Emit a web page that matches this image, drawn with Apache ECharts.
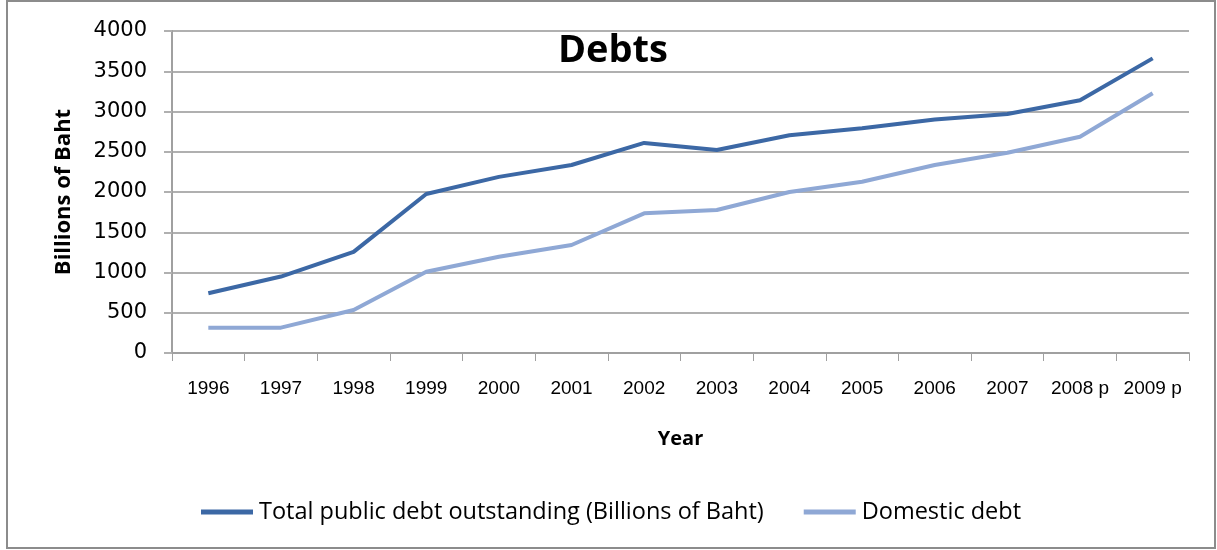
<!DOCTYPE html>
<html>
<head>
<meta charset="utf-8">
<script src="https://cdn.jsdelivr.net/npm/echarts@6/dist/echarts.min.js"></script>
<style>html,body{margin:0;padding:0;background:#fff}#c{width:1217px;height:550px}</style>
</head>
<body>
<div id="c"></div>
<script>
const years = ['1996','1997','1998','1999','2000','2001','2002','2003','2004','2005','2006','2007','2008 p','2009 p'];
const totalDebt = [742, 950, 1257, 1975, 2188, 2335, 2610, 2522, 2705, 2792, 2900, 2968, 3140, 3660];
const domesticDebt = [315, 315, 534, 1010, 1196, 1342, 1735, 1777, 2000, 2128, 2335, 2488, 2687, 3226];
const seriesNames = ['Total public debt outstanding (Billions of Baht)', 'Domestic debt'];
const yTicks = {min: 0, max: 4000, interval: 500};

const chart = echarts.init(document.getElementById('c'));
chart.setOption({
  animation: false,
  backgroundColor: '#ffffff',
  title: {
    text: 'Debts', left: 608, top: 27, textAlign: 'center',
    textStyle: {fontFamily: 'Open Sans', fontWeight: 'bold', fontSize: 38, color: '#000'}
  },
  graphic: [{
    type: 'rect', shape: {x: 7, y: 1, width: 1208, height: 547},
    style: {fill: 'none', stroke: '#8c8c8c', lineWidth: 2}, silent: true, z: -1
  }],
  legend: {
    left: 196, top: 495, itemWidth: 52, itemHeight: 5, itemGap: 40, icon: 'rect',
    textStyle: {fontFamily: 'Open Sans', fontSize: 23.5, color: '#000', padding: [0,0,0,1]},
    data: seriesNames
  },
  grid: {left: 172, right: 28, top: 31, bottom: 197},
  xAxis: {
    type: 'category', data: years, boundaryGap: true,
    name: 'Year', nameLocation: 'middle', nameGap: 76,
    nameTextStyle: {fontFamily: 'Open Sans', fontWeight: 'bold', fontSize: 20, color: '#000'},
    axisLine: {lineStyle: {color: '#a0a0a0', width: 2}},
    axisTick: {show: true, length: 8, inside: false, lineStyle: {color: '#a0a0a0', width: 1}},
    axisLabel: {fontFamily: 'Liberation Sans', fontSize: 19, color: '#000', margin: 26, interval: 0},
    splitLine: {show: false}
  },
  yAxis: {
    type: 'value', min: yTicks.min, max: yTicks.max, interval: yTicks.interval,
    name: 'Billions of Baht', nameLocation: 'middle', nameGap: 97, nameRotate: 90,
    nameTextStyle: {fontFamily: 'Open Sans', fontWeight: 'bold', fontSize: 22, color: '#000'},
    axisLine: {show: true, lineStyle: {color: '#a0a0a0', width: 2}},
    axisTick: {show: true, length: 8, lineStyle: {color: '#b0b0b0', width: 2}},
    axisLabel: {fontFamily: 'DejaVu Sans', fontSize: 21, color: '#000', margin: 25,
                formatter: function (v) { return String(v); }},
    splitLine: {show: true, lineStyle: {color: '#b0b0b0', width: 2}}
  },
  series: [
    {name: seriesNames[0], type: 'line', data: totalDebt, symbol: 'none',
     lineStyle: {color: '#3c68a5', width: 4}, itemStyle: {color: '#3c68a5'}},
    {name: seriesNames[1], type: 'line', data: domesticDebt, symbol: 'none',
     lineStyle: {color: '#8fa8d5', width: 4}, itemStyle: {color: '#8fa8d5'}}
  ]
});
</script>
</body>
</html>
